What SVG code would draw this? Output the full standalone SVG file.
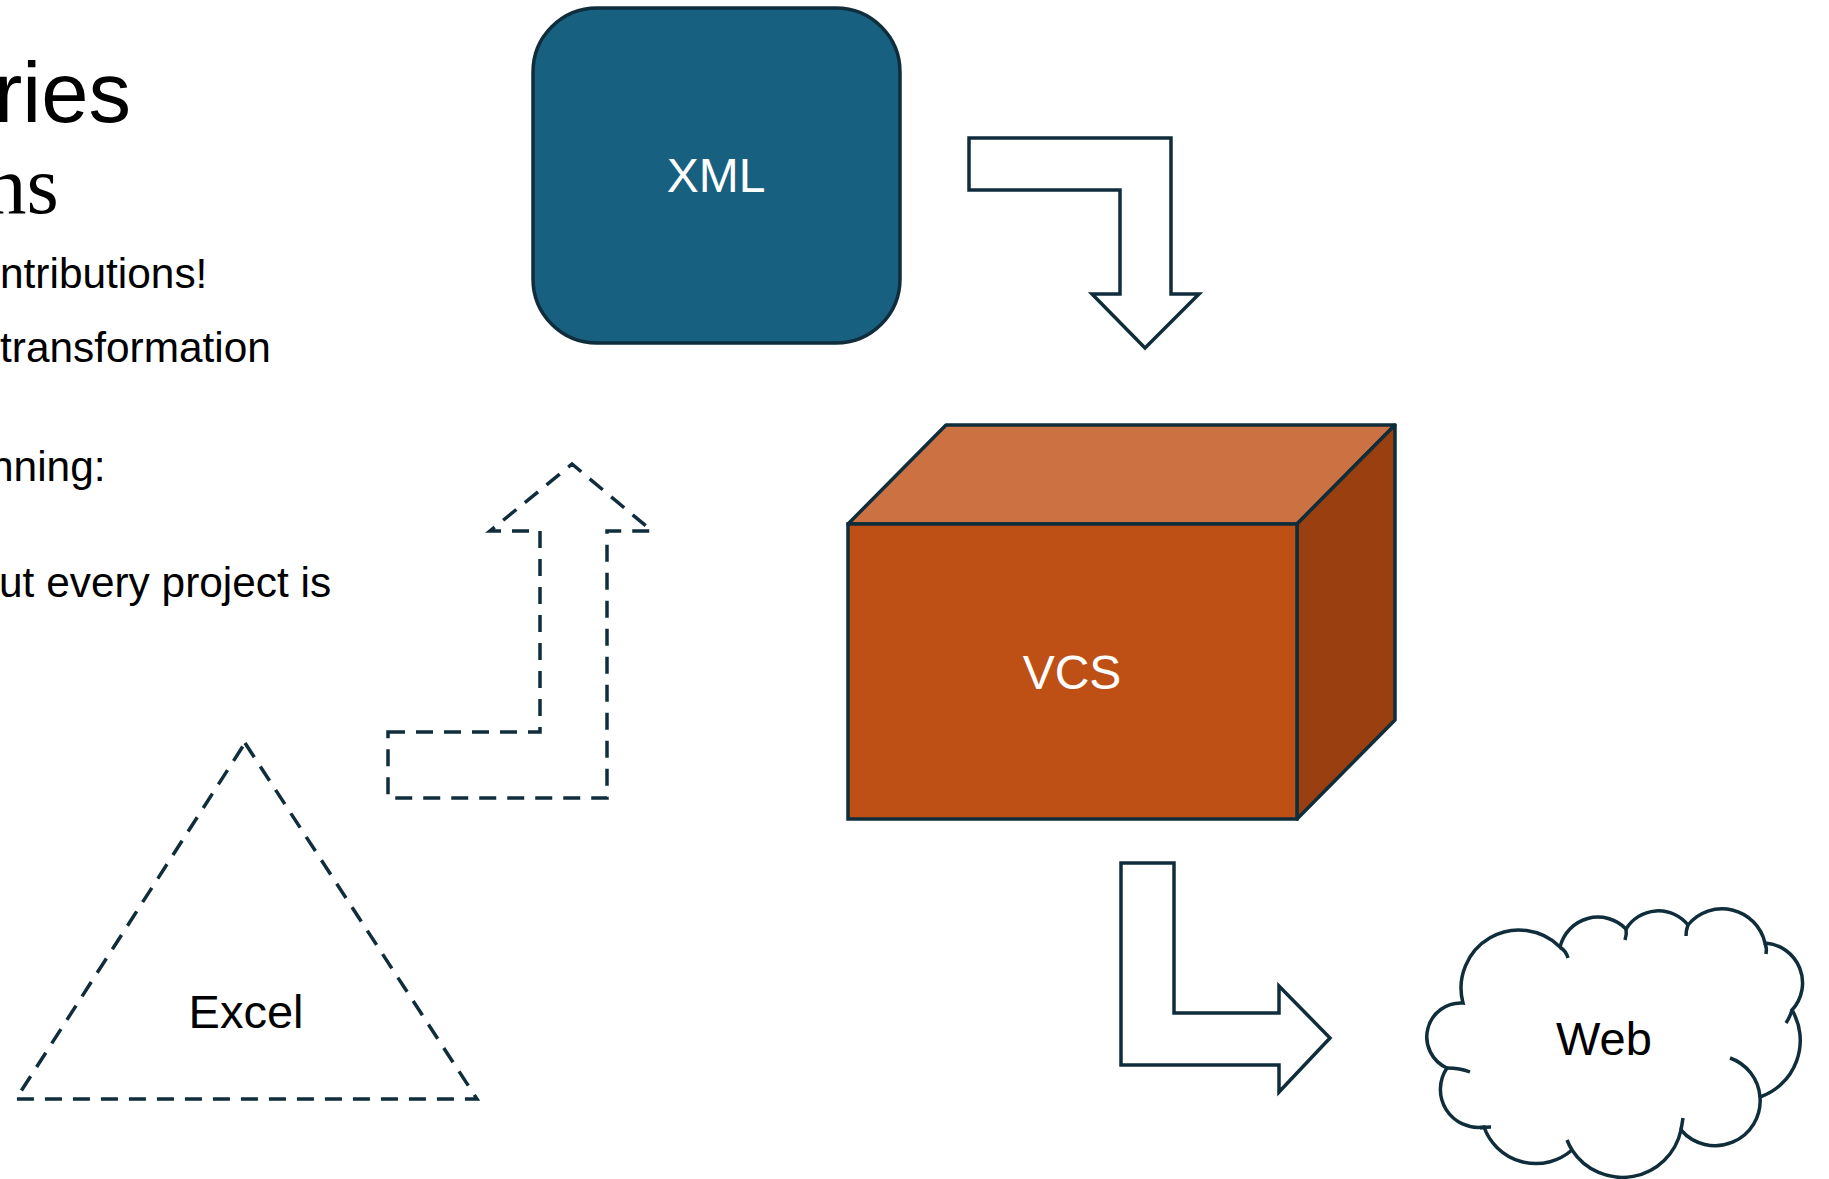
<svg xmlns="http://www.w3.org/2000/svg" width="1829" height="1179" viewBox="0 0 1829 1179">
  <style>
    .sans { font-family: "Liberation Sans", Arial, sans-serif; }
    .serif { font-family: "Liberation Serif", "Times New Roman", serif; }
    .body { font-size: 42.4px; fill: #000; }
    .lbl { font-size: 48px; text-anchor: middle; }
    .solid { fill: #ffffff; stroke: #0f2d3b; stroke-width: 3.5; stroke-linejoin: miter; }
    .dash { fill: none; stroke: #0f2d3b; stroke-width: 3.5; stroke-dasharray: 17 11; }
    .tail { fill: none; stroke: #0f2d3b; stroke-width: 3.5; stroke-linecap: butt; }
  </style>
  <rect width="1829" height="1179" fill="#ffffff"/>

  <g id="slide-text">
    <text class="sans" x="-6" y="122" font-size="85">ries</text>
    <text class="serif" x="-15" y="213" font-size="83">ns</text>
    <text class="sans body" x="0" y="288">ntributions!</text>
    <text class="sans body" x="0" y="362">transformation</text>
    <text class="sans body" x="-10" y="481">nning:</text>
    <text class="sans body" x="-1" y="597">ut every project is</text>
  </g>

  <g id="connectors">
    <path id="arrow-xml-vcs" class="solid" d="M969,138 L1171,138 L1171,294 L1199,294 L1145,348 L1092,294 L1120,294 L1120,190 L969,190 Z"/>
    <path id="arrow-excel-xml" class="dash" d="M388,732 L540,732 L540,531 L490,531 L572,464 L652,531 L607,531 L607,798 L388,798 Z"/>
    <path id="arrow-vcs-web" class="solid" d="M1121,863 L1174,863 L1174,1013 L1279,1013 L1279,986 L1330,1038 L1279,1092 L1279,1065 L1121,1065 Z"/>
  </g>

  <g id="node-xml">
    <rect x="533" y="8" width="367" height="335" rx="64" ry="64" fill="#186080" stroke="#0f2d3b" stroke-width="3.5"/>
    <text class="sans lbl" x="716" y="192" fill="#ffffff">XML</text>
  </g>

  <g id="node-vcs">
    <polygon points="848,524 946,425 1395,425 1297,524" fill="#cb7142" stroke="#0f2d3b" stroke-width="3.5" stroke-linejoin="round"/>
    <polygon points="1297,524 1395,425 1395,720 1297,819" fill="#9a3f10" stroke="#0f2d3b" stroke-width="3.5" stroke-linejoin="round"/>
    <rect x="848" y="524" width="449" height="295" fill="#be4f15" stroke="#0f2d3b" stroke-width="3.5"/>
    <text class="sans lbl" x="1072" y="689" fill="#ffffff">VCS</text>
  </g>

  <g id="node-excel">
    <polygon class="dash" points="245,743 477,1099 16,1099"/>
    <text class="sans" x="246" y="1028" font-size="47" text-anchor="middle" fill="#000">Excel</text>
  </g>

  <g id="node-web">
    <path fill="#ffffff" stroke="#0f2d3b" stroke-width="3.5" d="M1463,1003 A58 58 0 0 1 1560,947 A39 39 0 0 1 1626,929 A38 38 0 0 1 1688,925 A44 44 0 0 1 1765,943 A40 40 0 0 1 1792,1010 A60 60 0 0 1 1760,1097 A45 45 0 0 1 1681,1130 A60 60 0 0 1 1572,1150 A55 55 0 0 1 1484,1127 A38 38 0 0 1 1447,1068 A34 34 0 0 1 1463,1003 Z"/>
    <path class="tail" d="M1560,947 Q1566,951 1568,958"/>
    <path class="tail" d="M1626,929 Q1627,934 1625,940"/>
    <path class="tail" d="M1688,925 Q1686,930 1686,936"/>
    <path class="tail" d="M1765,943 Q1767,948 1766,954"/>
    <path class="tail" d="M1792,1010 Q1790,1017 1786,1023"/>
    <path class="tail" d="M1730,1058 A45 45 0 0 1 1760,1097"/>
    <path class="tail" d="M1681,1130 Q1682,1124 1683,1118"/>
    <path class="tail" d="M1572,1150 Q1569,1145 1567,1140"/>
    <path class="tail" d="M1480,1128 Q1486,1127 1491,1127"/>
    <path class="tail" d="M1447,1068 Q1460,1068 1470,1072"/>
    <text class="sans" x="1604" y="1055" font-size="47" text-anchor="middle" fill="#000">Web</text>
  </g>
</svg>
